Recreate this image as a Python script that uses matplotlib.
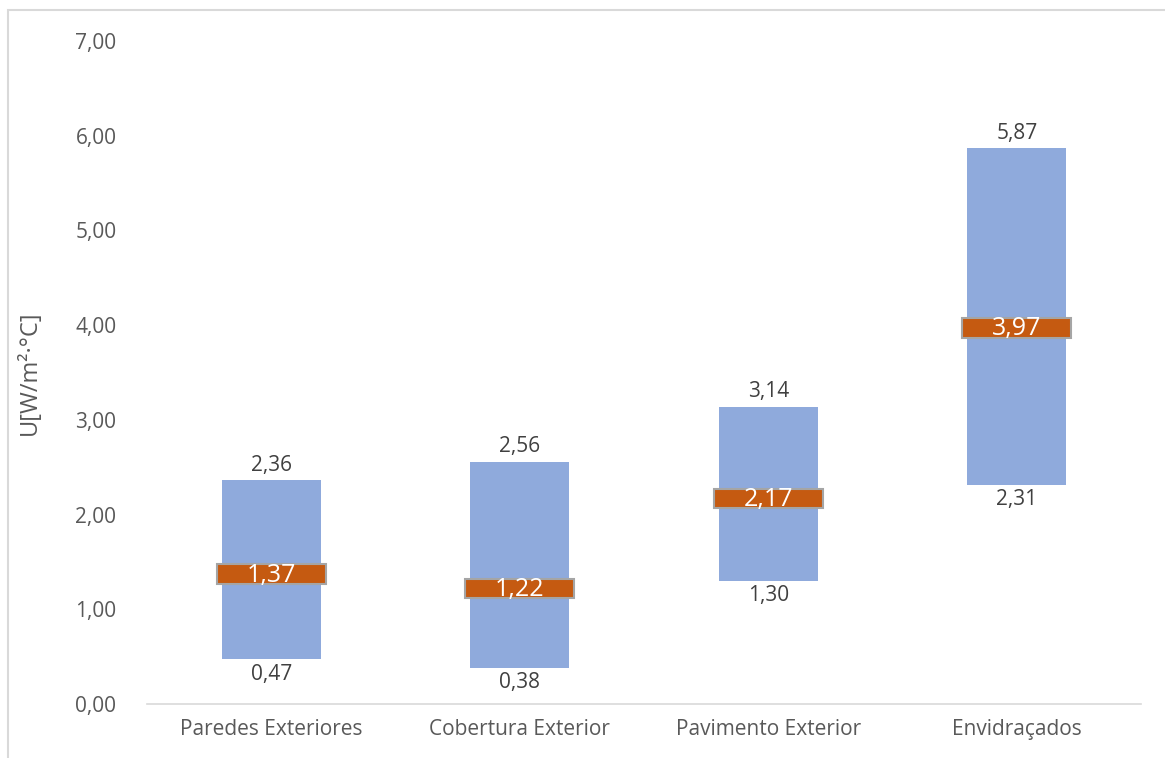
import numpy as np
import matplotlib.pyplot as plt
from matplotlib.patches import Rectangle

# U-value ranges per envelope element
categories = ['Paredes Exteriores', 'Cobertura Exterior', 'Pavimento Exterior', 'Envidraçados']
u_min = [0.47, 0.38, 1.30, 2.31]
u_max = [2.36, 2.56, 3.14, 5.87]
u_mean = [1.37, 1.22, 2.17, 3.97]
yticks = [0, 1, 2, 3, 4, 5, 6, 7]


def fmt(v):
    return f'{v:.2f}'.replace('.', ',')


def main():
    plt.rcParams['font.family'] = ['Open Sans', 'DejaVu Sans']
    text_col = '#404040'

    fig = plt.figure(figsize=(11.65, 7.58), dpi=100)
    ax = fig.add_axes([147 / 1165, 54 / 758, (1141 - 147) / 1165, (717 - 54) / 758])

    x = np.arange(len(categories))
    lo = np.array(u_min)
    hi = np.array(u_max)

    # floating bars from min to max
    ax.bar(x, hi - lo, bottom=lo, width=0.4, color='#8FAADC', zorder=2)

    # mean marker
    mh = 0.21
    ax.bar(x, [mh] * len(x), bottom=np.array(u_mean) - mh / 2, width=0.44,
           color='#C55A11', edgecolor='#A5A5A5', linewidth=1.5, zorder=3)

    for i in range(len(x)):
        ax.annotate(fmt(u_max[i]), (x[i], u_max[i]), xytext=(0, 3), textcoords='offset points',
                    ha='center', va='bottom', fontsize=15, color=text_col)
        ax.annotate(fmt(u_min[i]), (x[i], u_min[i]), xytext=(0, -3), textcoords='offset points',
                    ha='center', va='top', fontsize=15, color=text_col)
        ax.text(x[i], u_mean[i] - 0.01, fmt(u_mean[i]), ha='center', va='center',
                fontsize=18, color='white', zorder=4)

    ax.set_xlim(-0.5, len(x) - 0.5)
    ax.set_ylim(0, 7)
    ax.set_yticks(yticks)
    ax.set_yticklabels([fmt(v) for v in yticks])
    ax.set_xticks(x)
    ax.set_xticklabels(categories)
    ax.tick_params(axis='both', length=0, labelsize=15, labelcolor='#595959')
    ax.tick_params(axis='y', pad=22)
    ax.tick_params(axis='x', pad=11)
    ax.set_ylabel('U[W/m²·°C]', fontsize=17, color='#595959', labelpad=24)

    for s in ['top', 'right', 'left']:
        ax.spines[s].set_visible(False)
    ax.spines['bottom'].set_color('#D9D9D9')
    ax.spines['bottom'].set_linewidth(1.2)

    # chart area border
    fig.patches.append(Rectangle((8 / 1165, -0.1), 1.2, 1.1 - 10 / 758,
                                 transform=fig.transFigure, fill=False,
                                 edgecolor='#D9D9D9', linewidth=1.5))

    plt.savefig('out.png', dpi=100)


if __name__ == '__main__':
    main()
